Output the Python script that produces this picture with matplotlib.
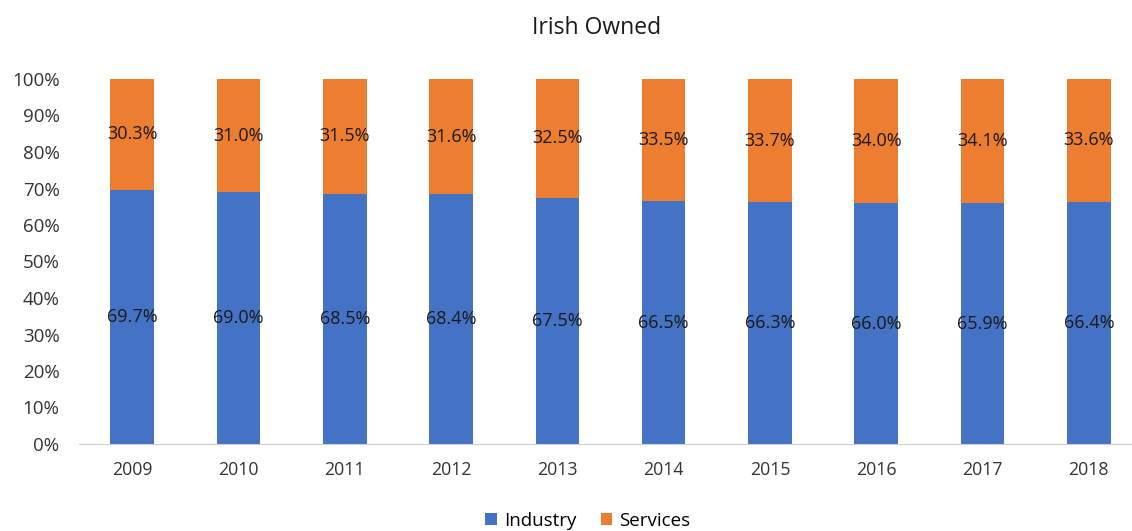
import matplotlib

matplotlib.use("Agg")
import matplotlib.pyplot as plt
import numpy as np

years = ["2009", "2010", "2011", "2012", "2013", "2014", "2015", "2016", "2017", "2018"]
industry = [69.7, 69.0, 68.5, 68.4, 67.5, 66.5, 66.3, 66.0, 65.9, 66.4]
services = [30.3, 31.0, 31.5, 31.6, 32.5, 33.5, 33.7, 34.0, 34.1, 33.6]

BLUE = "#4472c4"
ORANGE = "#ed7d31"

plt.rcParams["font.family"] = ["Open Sans", "DejaVu Sans"]

fig = plt.figure(figsize=(11.32, 5.31), dpi=100)
ax = fig.add_axes([79 / 1132, 87 / 531, 1063 / 1132, 365 / 531])

x = np.arange(len(years))
width = 0.41
ax.bar(x, industry, width, color=BLUE, label="Industry")
ax.bar(x, services, width, bottom=industry, color=ORANGE, label="Services")

for xi, ind, srv in zip(x, industry, services):
    ax.text(xi, ind / 2, f"{ind:.1f}%", ha="center", va="center", fontsize=13, color="#1a1a1a")
    ax.text(xi, ind + srv / 2, f"{srv:.1f}%", ha="center", va="center", fontsize=13, color="#1a1a1a")

ax.set_xlim(-0.5, len(years) - 0.5)
ax.set_ylim(0, 100)
ax.set_yticks(np.arange(0, 101, 10))
ax.set_yticklabels([f"{v}%" for v in range(0, 101, 10)])
ax.set_xticks(x)
ax.set_xticklabels(years)
ax.tick_params(axis="both", length=0, colors="#333333")
ax.tick_params(axis="y", pad=14, labelsize=13.5)
ax.tick_params(axis="x", pad=12, labelsize=12.8)
for side in ["top", "right", "left"]:
    ax.spines[side].set_visible(False)
ax.spines["bottom"].set_color("#d0d0d0")

fig.text(597 / 1132, 1 - 28 / 531, "Irish Owned", ha="center", va="center", fontsize=16.5, color="#1a1a1a")
fig.legend(
    loc="center",
    bbox_to_anchor=(588 / 1132, 1 - 521 / 531),
    ncol=2,
    frameon=False,
    fontsize=13.5,
    handlelength=0.6,
    handleheight=0.6,
    handletextpad=0.4,
    columnspacing=1.3,
)

fig.savefig("out.png", dpi=100)
